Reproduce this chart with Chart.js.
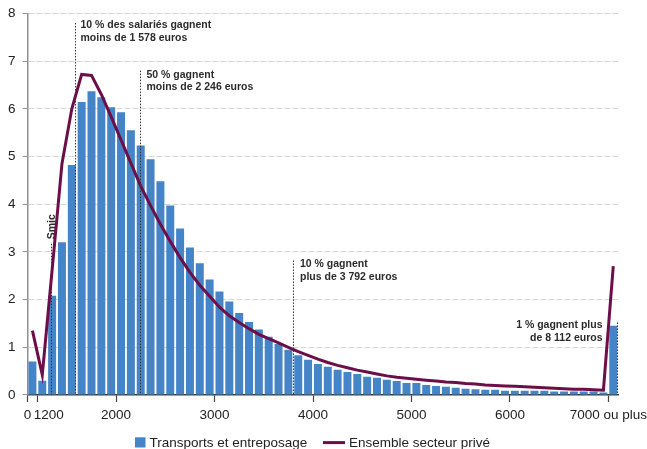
<!DOCTYPE html>
<html>
<head>
<meta charset="utf-8">
<script src="https://cdn.jsdelivr.net/npm/chart.js@4.4.1/dist/chart.umd.min.js"></script>
<style>
  html, body { margin: 0; padding: 0; background: #fff; }
</style>
</head>
<body>
<canvas id="chart" width="647" height="449"></canvas>
<script>
// classes de salaire net mensuel, pas de 100 euros (1100 = moins de 1 200, 7000 = 7 000 ou plus)
const binStarts = [1100, 1200, 1300, 1400, 1500, 1600, 1700, 1800, 1900, 2000,
  2100, 2200, 2300, 2400, 2500, 2600, 2700, 2800, 2900, 3000,
  3100, 3200, 3300, 3400, 3500, 3600, 3700, 3800, 3900, 4000,
  4100, 4200, 4300, 4400, 4500, 4600, 4700, 4800, 4900, 5000,
  5100, 5200, 5300, 5400, 5500, 5600, 5700, 5800, 5900, 6000,
  6100, 6200, 6300, 6400, 6500, 6600, 6700, 6800, 6900, 7000];

// part des salariés (%) - Transports et entreposage
const transports = [0.70, 0.30, 2.08, 3.20, 4.82, 6.14, 6.37, 6.24, 6.03, 5.93,
  5.55, 5.23, 4.94, 4.48, 3.97, 3.49, 3.09, 2.76, 2.42, 2.17,
  1.96, 1.72, 1.53, 1.37, 1.22, 1.07, 0.95, 0.83, 0.74, 0.65,
  0.59, 0.53, 0.48, 0.44, 0.38, 0.36, 0.32, 0.29, 0.25, 0.25,
  0.21, 0.19, 0.17, 0.15, 0.13, 0.12, 0.11, 0.11, 0.09, 0.09,
  0.09, 0.09, 0.09, 0.07, 0.07, 0.07, 0.07, 0.07, 0.05, 1.45];

// part des salariés (%) - Ensemble secteur privé
const ensemble = [1.35, 0.42, 2.62, 4.85, 6.00, 6.72, 6.70, 6.30, 5.83, 5.35,
  4.86, 4.38, 3.97, 3.58, 3.22, 2.88, 2.57, 2.30, 2.07, 1.84,
  1.66, 1.52, 1.39, 1.27, 1.18, 1.09, 1.00, 0.91, 0.83, 0.75,
  0.68, 0.62, 0.57, 0.52, 0.48, 0.44, 0.40, 0.37, 0.35, 0.33,
  0.31, 0.29, 0.27, 0.26, 0.24, 0.23, 0.21, 0.20, 0.19, 0.18,
  0.17, 0.16, 0.15, 0.14, 0.13, 0.12, 0.12, 0.11, 0.10, 2.70];

// axe des x : le 1200 est décalé à droite de sa graduation
const tickValues = [1100, 1200, 1315, 2000, 3000, 4000, 5000, 6000, 7000];
const tickLabels = ['0', '', '1200', '2000', '3000', '4000', '5000', '6000', '7000 ou plus'];
const hiddenTicks = [1315];

// repères (valeur en euros, haut du trait en %)
const markers = [
  { value: 1340, top: 3.17, lines: ['Smic'], rotate: true },
  { value: 1578, top: 7.8, lines: ['10 % des salariés gagnent', 'moins de 1 578 euros'], dx: 5, dy: 2.5 },
  { value: 2246, top: 6.8, lines: ['50 % gagnent', 'moins de 2 246 euros'], dx: 6, dy: 4 },
  { value: 3792, top: 2.82, lines: ['10 % gagnent', 'plus de 3 792 euros'], dx: 6.5, dy: 3.5 },
  { value: 7093, top: 1.52, lines: ['1 % gagnent plus', 'de 8 112 euros'], dx: -15, dy: 2.5, right: true }
];

const FONT = '"Liberation Sans", Arial, Helvetica, sans-serif';
const BLUE = '#4585c7';
const PURPLE = '#6c0f48';

const markerPlugin = {
  id: 'markers',
  afterDatasetDraw(chart, args) {
    if (args.index !== 0) return;
    const { ctx, scales: { x, y } } = chart;
    ctx.save();
    markers.forEach(m => {
      const px = Math.round(x.getPixelForValue(m.value)) + 0.5;
      const top = y.getPixelForValue(m.top);
      ctx.strokeStyle = '#333';
      ctx.lineWidth = 1;
      ctx.setLineDash([1.5, 1.5]);
      ctx.beginPath();
      ctx.moveTo(px, top);
      ctx.lineTo(px, y.getPixelForValue(0));
      ctx.stroke();
      ctx.setLineDash([]);
      ctx.fillStyle = '#2b2b2b';
      ctx.font = 'bold 10.5px ' + FONT;
      if (m.rotate) {
        ctx.save();
        ctx.translate(px + 3.5, top - 4.5);
        ctx.rotate(-Math.PI / 2);
        ctx.textAlign = 'left';
        ctx.textBaseline = 'alphabetic';
        ctx.fillText(m.lines[0], 0, 0);
        ctx.restore();
      } else {
        ctx.textAlign = m.right ? 'right' : 'left';
        ctx.textBaseline = 'middle';
        m.lines.forEach((t, i) => ctx.fillText(t, px + m.dx, top + m.dy + i * 12.7));
      }
    });
    ctx.restore();
  }
};

const legendPlugin = {
  id: 'legendRow',
  afterDraw(chart) {
    const ctx = chart.ctx;
    const [bars, line] = chart.data.datasets;
    const base = 446.8;
    ctx.save();
    ctx.font = '13.5px ' + FONT;
    ctx.textBaseline = 'alphabetic';
    ctx.textAlign = 'left';
    ctx.fillStyle = bars.backgroundColor;
    ctx.fillRect(135, 437.3, 10.5, 10.2);
    ctx.fillStyle = '#222';
    ctx.fillText(bars.label, 149.5, base);
    ctx.strokeStyle = line.borderColor;
    ctx.lineWidth = 3;
    ctx.beginPath();
    ctx.moveTo(323, 442.6);
    ctx.lineTo(345, 442.6);
    ctx.stroke();
    ctx.fillText(line.label, 349, base);
    ctx.restore();
  }
};

new Chart(document.getElementById('chart'), {
  type: 'bar',
  data: {
    datasets: [
      {
        type: 'bar',
        label: 'Transports et entreposage',
        data: binStarts.map((b, i) => ({ x: b + 50, y: transports[i] })),
        backgroundColor: BLUE,
        categoryPercentage: 1,
        barPercentage: 0.81,
        order: 2
      },
      {
        type: 'line',
        label: 'Ensemble secteur privé',
        data: binStarts.map((b, i) => ({ x: b + 50, y: ensemble[i] })),
        borderColor: PURPLE,
        borderWidth: 3,
        pointRadius: 0,
        tension: 0,
        order: 1
      }
    ]
  },
  options: {
    responsive: false,
    animation: false,
    layout: { padding: { left: 1, right: 0, top: 1.6, bottom: 21 } },
    plugins: { legend: { display: false }, tooltip: { enabled: false } },
    scales: {
      x: {
        type: 'linear',
        min: 1100,
        max: 7100,
        offset: false,
        afterBuildTicks: s => { s.ticks = tickValues.map(v => ({ value: v })); },
        ticks: {
          autoSkip: false,
          maxRotation: 0,
          padding: 0,
          color: '#222',
          font: { family: FONT, size: 13.5, lineHeight: 1.93 },
          callback: (v, i) => tickLabels[i]
        },
        grid: {
          offset: false,
          drawOnChartArea: false,
          tickLength: 7,
          tickWidth: 1.2,
          tickColor: c => hiddenTicks.includes(c.tick && c.tick.value) ? 'rgba(0,0,0,0)' : '#444'
        },
        border: { color: '#3a3a3a', width: 1.5 }
      },
      y: {
        min: 0,
        max: 8,
        ticks: {
          stepSize: 1,
          padding: 7,
          color: '#222',
          font: { family: FONT, size: 13.5, lineHeight: 0.95 }
        },
        grid: {
          color: c => c.tick && c.tick.value === 0 ? 'rgba(0,0,0,0)' : '#d6d6d6',
          lineWidth: 1,
          tickLength: 5,
          tickColor: '#999',
          tickBorderDash: []
        },
        border: { color: '#8f8f8f', width: 1.5, dash: [6, 2] }
      }
    }
  },
  plugins: [markerPlugin, legendPlugin]
});
</script>
</body>
</html>
